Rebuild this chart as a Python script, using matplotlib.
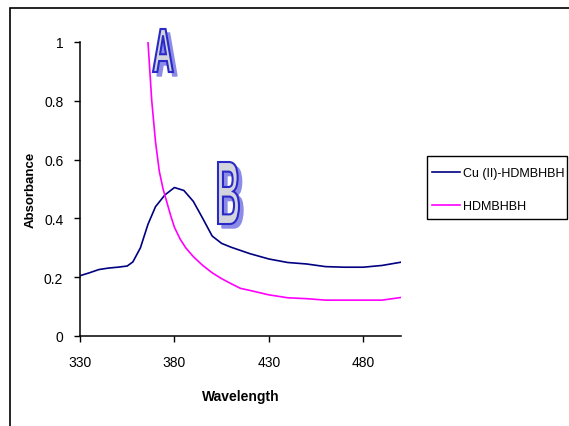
import matplotlib
matplotlib.use("Agg")
import matplotlib.pyplot as plt
from matplotlib.textpath import TextPath
from matplotlib.font_manager import FontProperties
from matplotlib.patches import PathPatch, Rectangle
from matplotlib.transforms import Affine2D, IdentityTransform

plt.rcParams['font.family'] = ['Liberation Sans', 'DejaVu Sans']

# ---- data ----
cu_x = [330, 335, 340, 345, 350, 355, 358, 362, 366, 370, 375, 380, 385, 390,
        395, 400, 405, 410, 420, 430, 440, 450, 460, 470, 480, 490, 500]
cu_y = [0.205, 0.215, 0.226, 0.231, 0.234, 0.238, 0.252, 0.30, 0.38, 0.44,
        0.48, 0.505, 0.495, 0.458, 0.40, 0.34, 0.315, 0.302, 0.28, 0.262,
        0.25, 0.245, 0.236, 0.234, 0.234, 0.240, 0.251]
l_x = [366, 368, 370, 372, 374, 376, 378, 380, 383, 386, 390, 395, 400, 405,
       410, 415, 420, 430, 440, 450, 460, 470, 480, 490, 500]
l_y = [1.0, 0.80, 0.66, 0.56, 0.50, 0.455, 0.41, 0.37, 0.33, 0.30, 0.27, 0.24,
       0.215, 0.195, 0.178, 0.162, 0.155, 0.14, 0.13, 0.127, 0.122, 0.122,
       0.122, 0.122, 0.131]
series_names = ["Cu (II)-HDMBHBH", "HDMBHBH"]
x_ticks = [330, 380, 430, 480]
y_ticks = [0, 0.2, 0.4, 0.6, 0.8, 1]
y_tick_labels = ["0", "0.2", "0.4", "0.6", "0.8", "1"]

W, H = 569, 427
fig = plt.figure(figsize=(W / 100, H / 100), dpi=100)
ax = fig.add_axes([80 / W, 1 - 337 / H, 321 / W, 294 / H])

l1, = ax.plot(cu_x, cu_y, color="#000080", lw=1.2)
l2, = ax.plot(l_x, l_y, color="#FF00FF", lw=1.2)

ax.set_xlim(330, 500)
ax.set_ylim(0, 1)
ax.set_xticks(x_ticks)
ax.set_yticks(y_ticks)
ax.set_yticklabels(y_tick_labels)
ax.tick_params(direction="out", length=4, width=1, labelsize=10, pad=8)
ax.tick_params(axis="x", pad=10)
for s in ["top", "right"]:
    ax.spines[s].set_visible(False)
for s in ["left", "bottom"]:
    ax.spines[s].set_linewidth(1.1)
ax.set_xlabel("Wavelength", fontsize=10, fontweight="bold", labelpad=14)
ax.set_ylabel("Absorbance", fontsize=9.5, fontweight="bold", labelpad=5)

# legend box drawn separately, entries without frame
fig.patches.append(Rectangle((427 / W, 1 - 220 / H), 140 / W, 63 / H,
                             transform=fig.transFigure, fill=False,
                             edgecolor="black", lw=1.0))
leg = fig.legend([l1, l2], series_names, loc="upper left",
                 bbox_to_anchor=(432 / W, 1 - 168 / H), borderaxespad=0,
                 fontsize=9, frameon=False, borderpad=0,
                 handlelength=2.2, labelspacing=1.68, handletextpad=0.25)

# outer chart border
fig.patches.append(Rectangle((10 / W, -0.05), 1.1, 1 - 9 / H + 0.05,
                             transform=fig.transFigure, fill=False,
                             edgecolor="black", lw=1.2))

# decorative letters
fp = FontProperties(family="Liberation Sans", weight="bold")


def letter(ch, x0, y0, x1, y1):
    tp = TextPath((0, 0), ch, size=100, prop=fp)
    ext = tp.get_extents()
    sx = (x1 - x0) / ext.width
    sy = (y1 - y0) / ext.height
    base = Affine2D().translate(-ext.x0, -ext.y0).scale(sx, sy)
    sh = base + Affine2D().translate(x0 + 4, H - y1 - 4)
    fg = base + Affine2D().translate(x0, H - y1)
    fig.patches.append(PathPatch(sh.transform_path(tp), transform=IdentityTransform(),
                                 facecolor="#8c8ce6", edgecolor="#8c8ce6", lw=1))
    fig.patches.append(PathPatch(fg.transform_path(tp), transform=IdentityTransform(),
                                 facecolor="#d4d4dc", edgecolor="#2a2ac8", lw=1.5))


letter("A", 153, 30, 173, 73)
letter("B", 218, 163, 239, 225)

fig.savefig("out.png", dpi=100)
